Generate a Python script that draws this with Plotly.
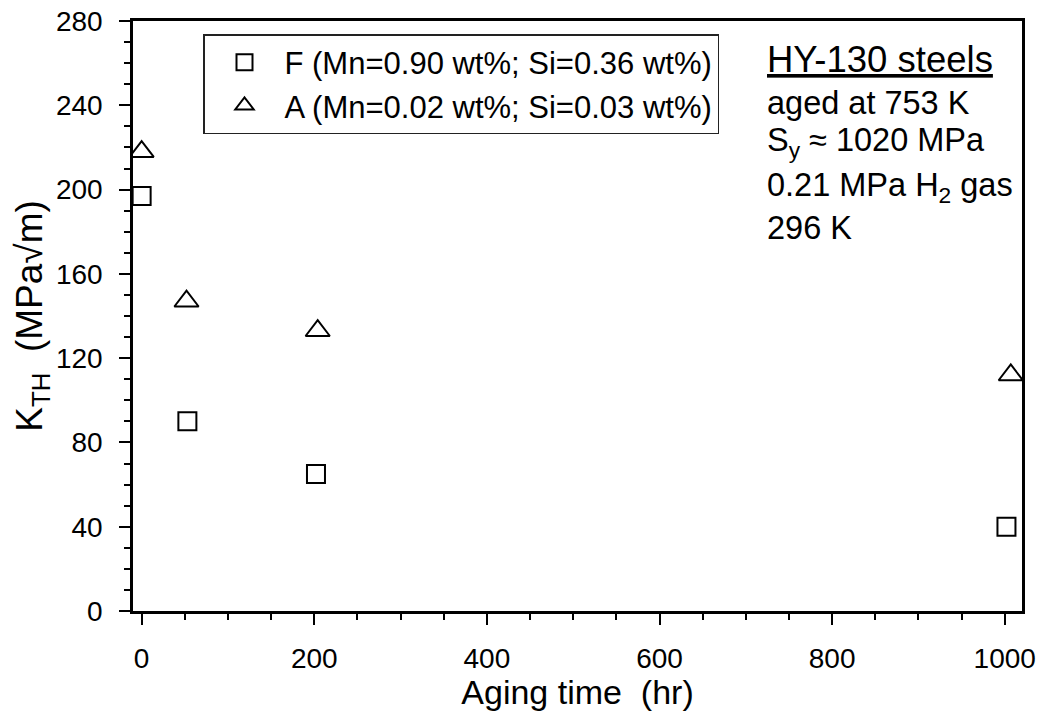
import plotly.graph_objects as go

# Data
aging_F = [0, 53, 202, 1002]
kth_F = [197, 90, 65, 40]
aging_A = [0, 52, 204, 1007]
kth_A = [218, 147, 133, 112]

name_F = "F (Mn=0.90 wt%; Si=0.36 wt%)"
name_A = "A (Mn=0.02 wt%; Si=0.03 wt%)"

x_ticks = [0, 200, 400, 600, 800, 1000]
y_ticks = [0, 40, 80, 120, 160, 200, 240, 280]

FONT = "Liberation Sans, Arial, Helvetica, sans-serif"

fig = go.Figure()
fig.add_trace(go.Scatter(
    x=aging_F, y=kth_F, mode="markers", name=name_F,
    marker=dict(symbol="square-open", size=18, color="black",
                line=dict(width=2, color="black")),
))
fig.add_trace(go.Scatter(
    x=aging_A, y=kth_A, mode="markers", name=name_A,
    marker=dict(symbol="triangle-up-open", size=21, color="black",
                line=dict(width=2, color="black")),
))

axis_common = dict(
    showgrid=False, zeroline=False, showline=True, linecolor="black",
    linewidth=2.5, mirror=True, ticks="outside", tickcolor="black",
    tickwidth=2, ticklen=11, automargin=False,
    tickfont=dict(family=FONT, size=28, color="black"),
)

fig.update_xaxes(
    range=[-10, 1020], tickvals=x_ticks, ticktext=[str(v) for v in x_ticks],
    minor=dict(dtick=50, tick0=0, ticks="outside", ticklen=6, tickwidth=2,
               tickcolor="black"),
    title=dict(text="Aging time\u00a0 (hr)", font=dict(family=FONT, size=34, color="black"),
               standoff=1),
    ticklabelstandoff=10,
    **axis_common,
)
fig.update_yaxes(
    range=[0, 280], tickvals=y_ticks, ticktext=[str(v) for v in y_ticks],
    minor=dict(dtick=10, tick0=0, ticks="outside", ticklen=6, tickwidth=2,
               tickcolor="black"),
    title=dict(text="K<sub>TH</sub>\u00a0 (MPa√m)", font=dict(family=FONT, size=37, color="black"),
               standoff=2),
    ticklabelstandoff=11,
    **axis_common,
)

ann_x = (765 - 133) / 889
lines = [
    ("<u>HY-130 steels</u>", 60, 36.5),
    ("aged at 753 K", 103, 32.5),
    ("S<sub>y</sub> ≈ 1020 MPa", 143, 32.5),
    ("0.21 MPa H<sub>2</sub> gas", 187, 32.5),
    ("296 K", 228, 32.5),
]
annotations = []
for txt, ypix, fs in lines:
    annotations.append(dict(
        text=txt, xref="paper", yref="paper", x=ann_x,
        y=(611 - ypix) / 590, xanchor="left", yanchor="middle",
        showarrow=False, font=dict(family=FONT, size=fs, color="black"),
    ))

fig.update_layout(
    width=1041, height=711,
    margin=dict(l=133, r=19, t=21, b=100),
    paper_bgcolor="white", plot_bgcolor="white",
    font=dict(family=FONT, color="black"),
    showlegend=True,
    legend=dict(
        x=(203 - 133) / 889, y=(611 - 34) / 590, xanchor="left", yanchor="top",
        bgcolor="white", bordercolor="#222222", borderwidth=1.5,
        font=dict(family=FONT, size=31, color="black"),
        itemwidth=70,
    ),
    annotations=annotations,
)

fig.write_html("out.html")
